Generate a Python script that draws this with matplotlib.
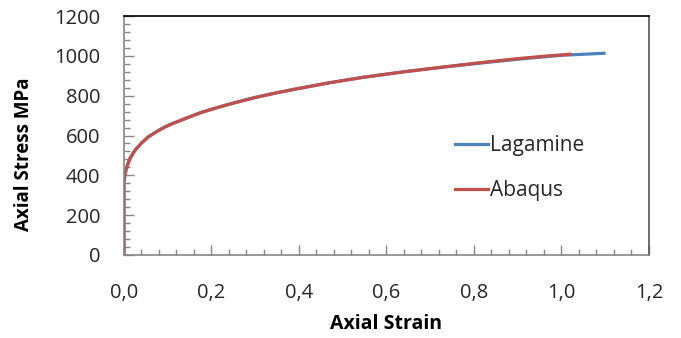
import matplotlib
matplotlib.use('Agg')
import matplotlib.pyplot as plt
from matplotlib.ticker import MultipleLocator, FuncFormatter

# values
lag_strain = [0.0, 0.0, 0.002, 0.005, 0.009, 0.015, 0.025, 0.04, 0.055, 0.075, 0.093, 0.11, 0.131,
              0.155, 0.177, 0.21, 0.24, 0.3, 0.35, 0.394, 0.47, 0.546, 0.64, 0.737, 0.82, 0.9,
              1.0, 1.05, 1.097]
lag_stress = [0, 360, 400, 430, 458, 490, 525, 562, 592, 620, 642, 659, 677,
              698, 716, 738, 757, 791, 815, 834, 865, 892, 920, 945, 965, 983,
              1003, 1008, 1013]
aba_strain = [0.0, 0.0, 0.002, 0.005, 0.009, 0.015, 0.025, 0.04, 0.055, 0.075, 0.093, 0.11, 0.131,
              0.155, 0.177, 0.21, 0.24, 0.3, 0.35, 0.394, 0.47, 0.546, 0.64, 0.737, 0.82, 0.9,
              0.96, 1.019]
aba_stress = [0, 360, 400, 430, 458, 490, 525, 562, 592, 620, 642, 659, 677,
              698, 716, 738, 757, 791, 815, 834, 865, 892, 920, 946, 967, 986,
              998, 1008]

plt.rcParams['font.family'] = ['Open Sans', 'DejaVu Sans']

fig = plt.figure(figsize=(6.81, 3.38), dpi=100)
ax = fig.add_axes([0.182, 0.2456, 0.771, 0.707])

ax.plot(lag_strain, lag_stress, color='#4F81BD', lw=2.3, label='Lagamine')
ax.plot(aba_strain, aba_stress, color='#C0504D', lw=2.3, label='Abaqus')

ax.set_xlim(0, 1.2)
ax.set_ylim(0, 1200)
ax.xaxis.set_major_locator(MultipleLocator(0.2))
ax.xaxis.set_minor_locator(MultipleLocator(0.04))
ax.yaxis.set_major_locator(MultipleLocator(200))
ax.yaxis.set_minor_locator(MultipleLocator(40))
ax.xaxis.set_major_formatter(FuncFormatter(lambda v, p: f'{v:.1f}'.replace('.', ',')))
ax.tick_params(which='major', direction='in', length=7, width=1, color='#868686',
               labelsize=14.5, labelcolor='#262626')
ax.tick_params(which='minor', direction='in', length=4, width=1, color='#868686')
ax.tick_params(axis='x', pad=20)
ax.tick_params(axis='y', pad=17)

for s in ['left', 'bottom']:
    ax.spines[s].set_color('#868686')
ax.spines['top'].set_color('black')
ax.spines['right'].set_color('#555555')
for s in ax.spines.values():
    s.set_linewidth(1.2)

ax.set_xlabel('Axial Strain', fontsize=14, fontweight='bold', labelpad=8)
ax.set_ylabel('Axial Stress MPa', fontsize=13.5, fontweight='bold')
ax.yaxis.set_label_coords(-0.172, 0.42)

leg = ax.legend(loc='upper left', bbox_to_anchor=(0.594, 0.58), frameon=False,
                fontsize=15, handlelength=1.6, handletextpad=0.1, labelspacing=1.15)
for t in leg.get_texts():
    t.set_color('#262626')

fig.savefig('out.png', dpi=100)
